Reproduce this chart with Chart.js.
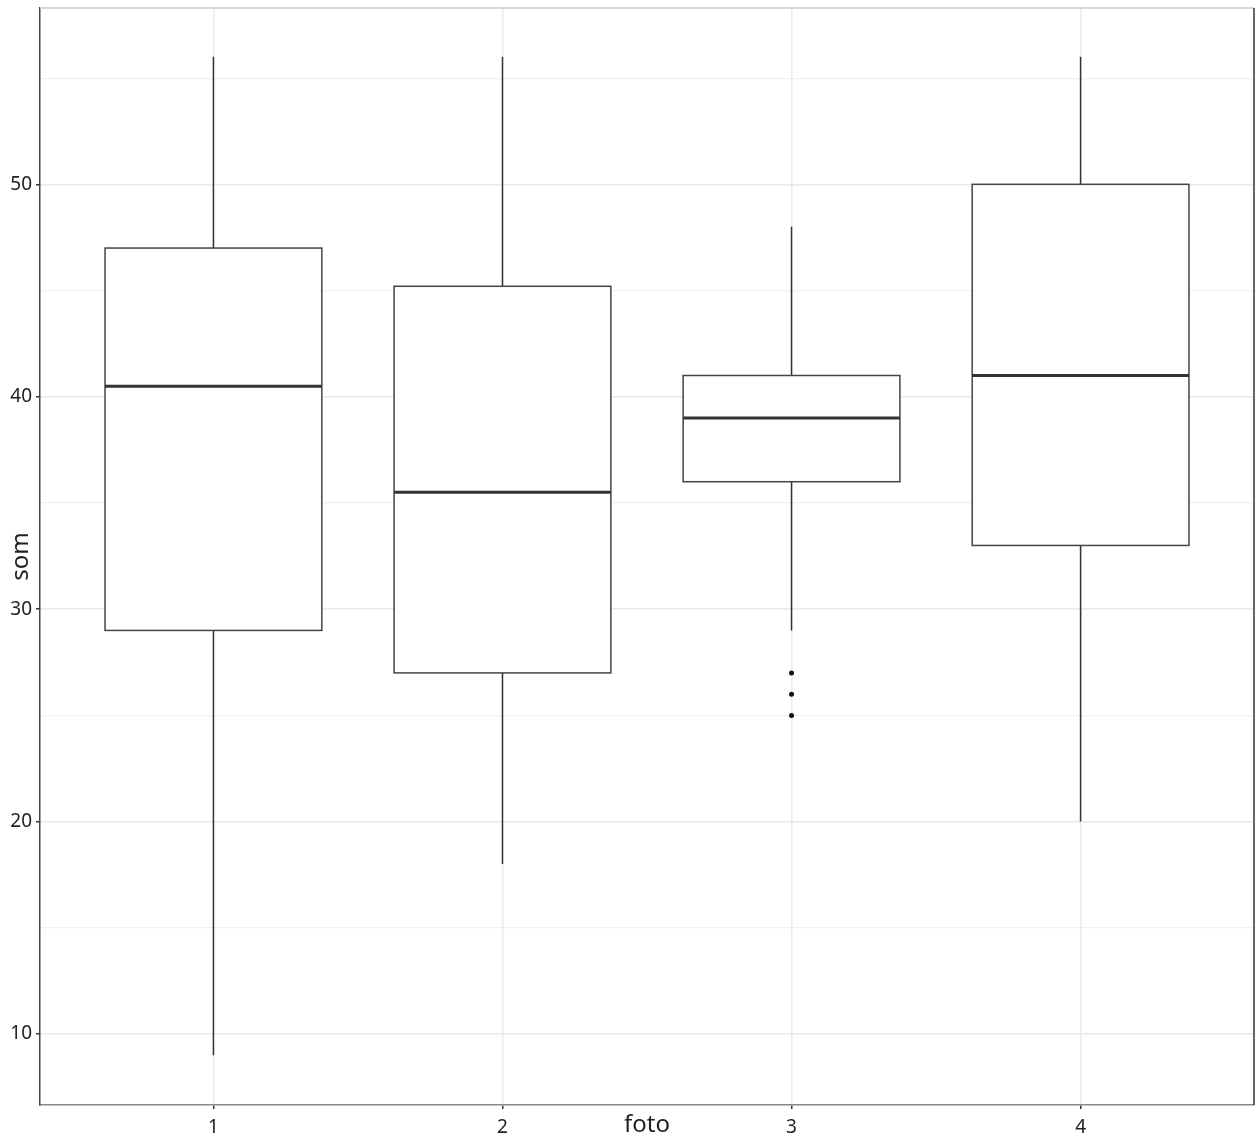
<!DOCTYPE html>
<html>
<head>
<meta charset="utf-8">
<script src="https://cdn.jsdelivr.net/npm/chart.js@4"></script>
<style>
  html, body { margin: 0; padding: 0; background: #fff; overflow: hidden; }
  canvas { display: block; }
</style>
</head>
<body>
<canvas id="boxChart" width="1258" height="1140"></canvas>
<script>
// box plot values, one entry per foto group
const categories = ['1', '2', '3', '4'];
const whiskerLow = [9, 18, 29, 20];
const q1 = [29, 27, 36, 33];
const median = [40.5, 35.5, 39, 41];
const q3 = [47, 45.2, 41, 50];
const whiskerHigh = [56, 56, 48, 56];
const outlierGroup = [3, 3, 3];
const outlierValue = [27, 26, 25];
const yTickLabels = [10, 20, 30, 40, 50];

const FONT = "'Noto Sans', 'DejaVu Sans', sans-serif";
const BOX_HALF = 0.375;

// draws boxes, whiskers and medians through the chart scales
const boxPlugin = {
    id: 'boxes',
    afterDatasetsDraw(chart) {
        const ctx = chart.ctx;
        const x = chart.scales.x;
        const y = chart.scales.y;
        ctx.save();
        categories.forEach((cat, i) => {
            const pos = i + 1;
            const cx = x.getPixelForValue(pos);
            const left = x.getPixelForValue(pos - BOX_HALF);
            const right = x.getPixelForValue(pos + BOX_HALF);
            const yq1 = y.getPixelForValue(q1[i]);
            const yq3 = y.getPixelForValue(q3[i]);

            // whiskers
            ctx.strokeStyle = '#333';
            ctx.lineWidth = 1.5;
            ctx.beginPath();
            ctx.moveTo(cx, y.getPixelForValue(whiskerHigh[i]));
            ctx.lineTo(cx, yq3);
            ctx.moveTo(cx, yq1);
            ctx.lineTo(cx, y.getPixelForValue(whiskerLow[i]));
            ctx.stroke();

            // box
            ctx.fillStyle = '#fff';
            ctx.fillRect(left, yq3, right - left, yq1 - yq3);
            ctx.strokeStyle = '#444';
            ctx.lineWidth = 1.5;
            ctx.strokeRect(left, yq3, right - left, yq1 - yq3);

            // median
            const ym = y.getPixelForValue(median[i]);
            ctx.strokeStyle = '#333';
            ctx.lineWidth = 3;
            ctx.beginPath();
            ctx.moveTo(left, ym);
            ctx.lineTo(right, ym);
            ctx.stroke();
        });
        ctx.restore();
    },
    afterDraw(chart) {
        // top and right panel edges
        const ctx = chart.ctx;
        const a = chart.chartArea;
        ctx.save();
        ctx.lineWidth = 1.5;
        ctx.strokeStyle = '#cccccc';
        ctx.beginPath();
        ctx.moveTo(a.left, a.top);
        ctx.lineTo(a.right, a.top);
        ctx.stroke();
        ctx.strokeStyle = '#333';
        ctx.beginPath();
        ctx.moveTo(a.right, a.top);
        ctx.lineTo(a.right, a.bottom);
        ctx.stroke();
        ctx.restore();
    }
};

const outliers = outlierGroup.map((g, i) => ({ x: g, y: outlierValue[i] }));

new Chart(document.getElementById('boxChart'), {
    type: 'scatter',
    data: {
        datasets: [{
            label: 'outliers',
            data: outliers,
            pointRadius: 2.5,
            pointBackgroundColor: '#111',
            pointBorderColor: '#111',
            pointBorderWidth: 0
        }]
    },
    options: {
        responsive: false,
        animation: false,
        layout: { padding: { top: 8, right: -2, left: 0, bottom: 0 } },
        plugins: {
            legend: { display: false },
            tooltip: { enabled: false }
        },
        scales: {
            x: {
                type: 'linear',
                min: 0.4,
                max: 4.6,
                afterFit: scale => {
                    scale.height = 35;
                    scale.paddingLeft = 0;
                    scale.paddingRight = 0;
                },
                ticks: {
                    stepSize: 1,
                    includeBounds: false,
                    padding: 7,
                    color: '#222',
                    font: { family: FONT, size: 19 },
                    callback: v => Number.isInteger(v) ? categories[v - 1] : ''
                },
                grid: {
                    color: '#ebebeb',
                    lineWidth: 1.5,
                    tickColor: '#333',
                    tickLength: 4
                },
                border: { color: '#888', width: 1.5 },
                title: {
                    display: true,
                    text: 'foto',
                    color: '#222',
                    font: { family: FONT, size: 24 },
                    padding: { top: 0, bottom: 0 }
                }
            },
            y: {
                min: 6.66,
                max: 58.3,
                afterFit: scale => {
                    scale.width = 40;
                    scale.paddingTop = 0;
                    scale.paddingBottom = 0;
                },
                ticks: {
                    stepSize: 5,
                    includeBounds: false,
                    padding: 4,
                    color: '#222',
                    font: { family: FONT, size: 19 },
                    callback: v => yTickLabels.includes(v) ? String(v) : ''
                },
                grid: {
                    color: ctx => yTickLabels.includes(ctx.tick && ctx.tick.value) ? '#e8e8e8' : '#f0f0f0',
                    lineWidth: ctx => yTickLabels.includes(ctx.tick && ctx.tick.value) ? 1.5 : 1.2,
                    tickColor: ctx => yTickLabels.includes(ctx.tick && ctx.tick.value) ? '#333' : 'rgba(0,0,0,0)',
                    tickLength: 4
                },
                border: { color: '#444', width: 1.5 },
                title: {
                    display: true,
                    text: 'som',
                    color: '#222',
                    font: { family: FONT, size: 24 },
                    padding: { top: 7, bottom: 0 }
                }
            }
        }
    },
    plugins: [boxPlugin]
});
</script>
</body>
</html>
